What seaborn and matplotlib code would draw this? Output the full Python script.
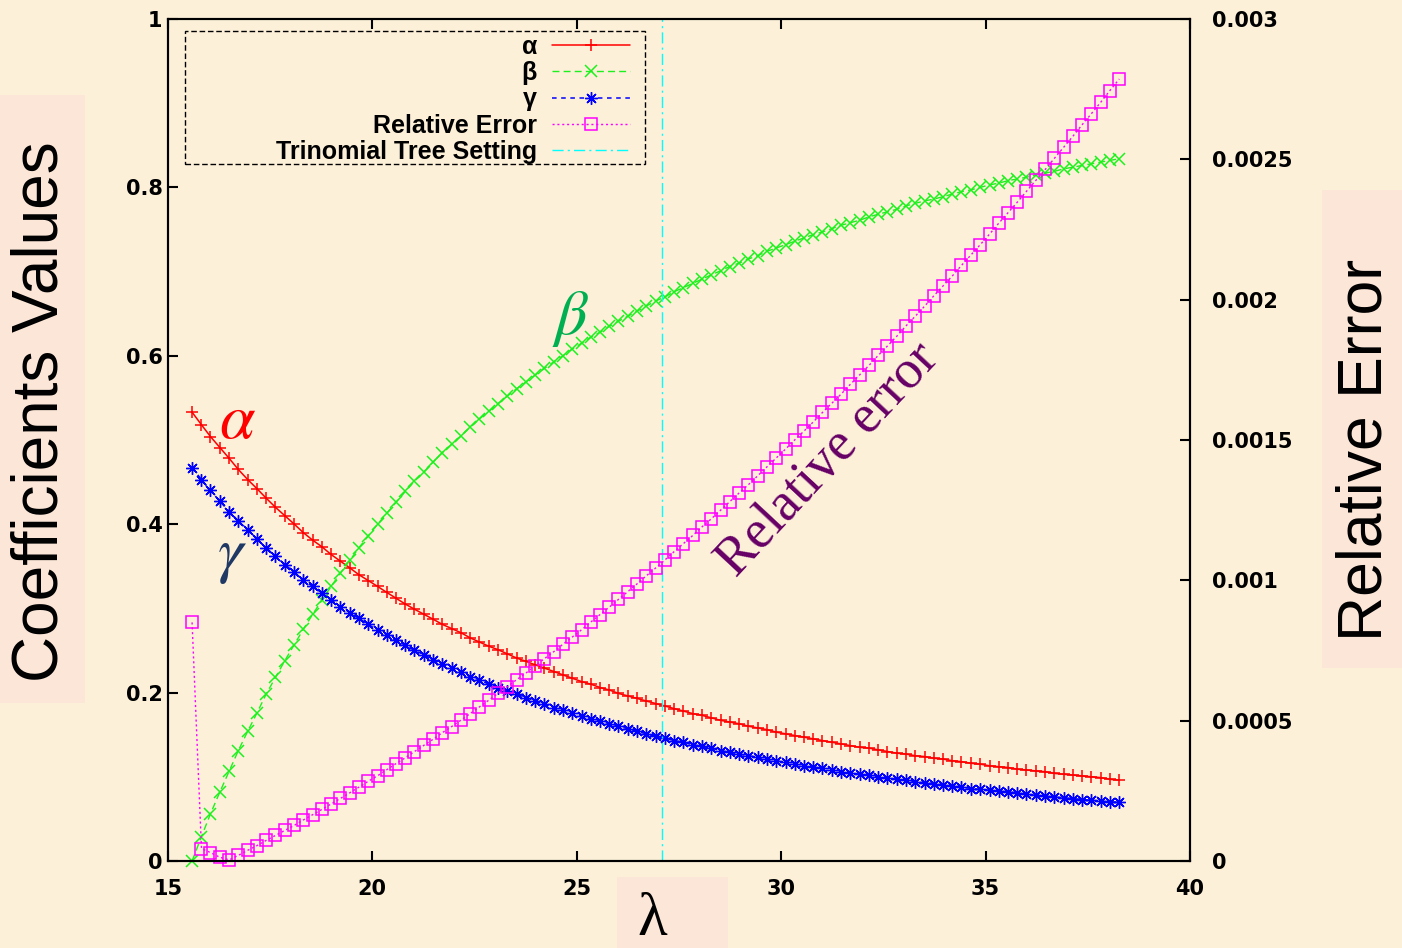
import matplotlib
matplotlib.use("Agg")
import matplotlib.pyplot as plt
import pandas as pd
import seaborn as sns
from matplotlib.patches import Rectangle

# ---------------- data ----------------
lam = [15.59, 15.82, 16.04, 16.27, 16.50, 16.72, 16.95, 17.18, 17.40, 17.63,
       17.86, 18.09, 18.31, 18.54, 18.77, 18.99, 19.22, 19.45, 19.67, 19.90,
       20.13, 20.35, 20.58, 20.81, 21.03, 21.26, 21.49, 21.71, 21.94, 22.17,
       22.39, 22.62, 22.85, 23.07, 23.30, 23.53, 23.76, 23.98, 24.21, 24.44,
       24.66, 24.89, 25.12, 25.34, 25.57, 25.80, 26.02, 26.25, 26.48, 26.70,
       26.93, 27.16, 27.38, 27.61, 27.84, 28.06, 28.29, 28.52, 28.74, 28.97,
       29.20, 29.43, 29.65, 29.88, 30.11, 30.33, 30.56, 30.79, 31.01, 31.24,
       31.47, 31.69, 31.92, 32.15, 32.37, 32.60, 32.83, 33.05, 33.28, 33.51,
       33.73, 33.96, 34.19, 34.41, 34.64, 34.87, 35.10, 35.32, 35.55, 35.78,
       36.00, 36.23, 36.46, 36.68, 36.91, 37.14, 37.36, 37.59, 37.82, 38.04,
       38.27]

alpha = [0.533, 0.518, 0.504, 0.491, 0.478, 0.465, 0.453, 0.442, 0.431, 0.420,
         0.410, 0.400, 0.390, 0.381, 0.373, 0.364, 0.356, 0.348, 0.340, 0.333,
         0.326, 0.319, 0.312, 0.305, 0.299, 0.293, 0.287, 0.281, 0.276, 0.271,
         0.265, 0.260, 0.255, 0.251, 0.246, 0.241, 0.237, 0.233, 0.229, 0.225,
         0.221, 0.217, 0.213, 0.210, 0.206, 0.203, 0.199, 0.196, 0.193, 0.190,
         0.187, 0.184, 0.181, 0.178, 0.175, 0.173, 0.170, 0.167, 0.165, 0.163,
         0.160, 0.158, 0.156, 0.153, 0.151, 0.149, 0.147, 0.145, 0.143, 0.141,
         0.139, 0.137, 0.135, 0.134, 0.132, 0.130, 0.128, 0.127, 0.125, 0.124,
         0.122, 0.121, 0.119, 0.118, 0.116, 0.115, 0.113, 0.112, 0.111, 0.109,
         0.108, 0.107, 0.106, 0.104, 0.103, 0.102, 0.101, 0.100, 0.099, 0.097,
         0.096]

beta = [0.000, 0.029, 0.056, 0.082, 0.107, 0.131, 0.154, 0.176, 0.198, 0.218,
        0.238, 0.257, 0.275, 0.293, 0.310, 0.326, 0.342, 0.357, 0.372, 0.386,
        0.400, 0.413, 0.426, 0.439, 0.451, 0.462, 0.474, 0.485, 0.495, 0.505,
        0.515, 0.525, 0.534, 0.543, 0.552, 0.561, 0.569, 0.577, 0.585, 0.593,
        0.600, 0.608, 0.615, 0.622, 0.628, 0.635, 0.641, 0.647, 0.653, 0.659,
        0.665, 0.670, 0.676, 0.681, 0.686, 0.691, 0.696, 0.701, 0.706, 0.710,
        0.715, 0.719, 0.724, 0.728, 0.732, 0.736, 0.740, 0.744, 0.747, 0.751,
        0.755, 0.758, 0.761, 0.765, 0.768, 0.771, 0.774, 0.778, 0.781, 0.784,
        0.786, 0.789, 0.792, 0.795, 0.797, 0.800, 0.803, 0.805, 0.808, 0.810,
        0.812, 0.815, 0.817, 0.819, 0.822, 0.824, 0.826, 0.828, 0.830, 0.832,
        0.834]

gamma = [0.467, 0.453, 0.440, 0.427, 0.415, 0.404, 0.393, 0.382, 0.372, 0.362,
         0.352, 0.343, 0.334, 0.326, 0.318, 0.310, 0.302, 0.295, 0.288, 0.281,
         0.274, 0.268, 0.262, 0.256, 0.250, 0.245, 0.239, 0.234, 0.229, 0.224,
         0.219, 0.215, 0.210, 0.206, 0.202, 0.198, 0.194, 0.190, 0.186, 0.182,
         0.179, 0.176, 0.172, 0.169, 0.166, 0.163, 0.160, 0.157, 0.154, 0.151,
         0.148, 0.146, 0.143, 0.141, 0.138, 0.136, 0.134, 0.131, 0.129, 0.127,
         0.125, 0.123, 0.121, 0.119, 0.117, 0.115, 0.113, 0.112, 0.110, 0.108,
         0.106, 0.105, 0.103, 0.102, 0.100, 0.099, 0.097, 0.096, 0.094, 0.093,
         0.092, 0.090, 0.089, 0.088, 0.086, 0.085, 0.084, 0.083, 0.082, 0.081,
         0.079, 0.078, 0.077, 0.076, 0.075, 0.074, 0.073, 0.072, 0.071, 0.070,
         0.070]

rel_err = [0.000850, 0.000044, 0.000030, 0.000013, 0.000004, 0.000020, 0.000038, 0.000055, 0.000073, 0.000091,
           0.000109, 0.000127, 0.000146, 0.000165, 0.000184, 0.000203, 0.000223, 0.000243, 0.000263, 0.000284,
           0.000304, 0.000325, 0.000347, 0.000368, 0.000390, 0.000412, 0.000434, 0.000457, 0.000479, 0.000502,
           0.000525, 0.000549, 0.000573, 0.000597, 0.000621, 0.000646, 0.000670, 0.000695, 0.000721, 0.000746,
           0.000772, 0.000798, 0.000824, 0.000851, 0.000878, 0.000905, 0.000932, 0.000960, 0.000988, 0.001016,
           0.001044, 0.001073, 0.001102, 0.001131, 0.001160, 0.001190, 0.001219, 0.001250, 0.001280, 0.001311,
           0.001341, 0.001373, 0.001404, 0.001436, 0.001468, 0.001500, 0.001532, 0.001565, 0.001598, 0.001631,
           0.001664, 0.001698, 0.001732, 0.001766, 0.001801, 0.001835, 0.001870, 0.001906, 0.001941, 0.001977,
           0.002013, 0.002049, 0.002085, 0.002122, 0.002159, 0.002196, 0.002234, 0.002272, 0.002310, 0.002348,
           0.002386, 0.002425, 0.002464, 0.002503, 0.002543, 0.002583, 0.002623, 0.002663, 0.002704, 0.002745,
           0.002786]

setting_lambda = 27.08

x_ticks = [15, 20, 25, 30, 35, 40]
y_ticks = [0, 0.2, 0.4, 0.6, 0.8, 1]
y2_ticks = [0, 0.0005, 0.001, 0.0015, 0.002, 0.0025, 0.003]
legend_labels = ["α", "β", "γ", "Relative Error", "Trinomial Tree Setting"]

# ---------------- style ----------------
BG = "#FCF0D8"
BOX = "#FBE6D8"
sns.set_theme(style="ticks")
plt.rcParams.update({
    "font.family": ["DejaVu Sans"],
    "mathtext.fontset": "stix",
    "text.color": "black",
    "axes.labelcolor": "black",
    "axes.edgecolor": "black",
    "axes.linewidth": 1.5,
    "xtick.color": "black",
    "ytick.color": "black",
})

df = pd.DataFrame({"lam": lam, "alpha": alpha, "beta": beta,
                   "gamma": gamma, "rel_err": rel_err})

fig = plt.figure(figsize=(14.02, 9.48), dpi=100, facecolor=BG)
ax = fig.add_axes([0.1198, 0.0918, 0.7290, 0.8882])
ax.set_facecolor(BG)
ax2 = ax.twinx()

common = dict(estimator=None, errorbar=None, legend=False, clip_on=False, sort=False)
GREEN = "#1EF01E"

sns.lineplot(data=df, x="lam", y="alpha", ax=ax, color="#FF0000", linewidth=1.1,
             marker="+", markersize=8.5, markeredgewidth=1.1, markeredgecolor="#FF0000",
             label=legend_labels[0], **common)
sns.lineplot(data=df, x="lam", y="beta", ax=ax, color=GREEN, linewidth=1.0,
             linestyle=(0, (5, 3)),
             marker="x", markersize=8, markeredgewidth=1.1, markeredgecolor=GREEN,
             label=legend_labels[1], **common)
sns.lineplot(data=df, x="lam", y="gamma", ax=ax, color="#0000FF", linewidth=1.1,
             linestyle=(0, (3, 3)),
             marker=(8, 2, 0), markersize=9, markeredgewidth=1.0, markeredgecolor="#0000FF",
             label=legend_labels[2], **common)
sns.lineplot(data=df, x="lam", y="rel_err", ax=ax2, color="#FF00FF", linewidth=1.0,
             linestyle=(0, (1.5, 2)),
             marker="s", markersize=8.5, markeredgewidth=1.1, markeredgecolor="#FF00FF",
             markerfacecolor="none",
             label=legend_labels[3], **common)
vline = ax.axvline(setting_lambda, color="#00FFFF", linewidth=1.0,
                   linestyle=(0, (8, 3, 1.5, 3)), label=legend_labels[4])

ax.set_xlim(x_ticks[0], x_ticks[-1])
ax.set_ylim(y_ticks[0], y_ticks[-1])
ax2.set_ylim(y2_ticks[0], y2_ticks[-1])
ax.set_xlabel("")
ax.set_ylabel("")
ax2.set_ylabel("")

tick_font = dict(fontsize=15, fontweight="bold", family="DejaVu Sans", color="black")
ax.set_xticks(x_ticks, labels=[f"{v:g}" for v in x_ticks], **tick_font)
ax.set_yticks(y_ticks, labels=[f"{v:g}" for v in y_ticks], **tick_font)
ax2.set_yticks(y2_ticks, labels=[f"{v:g}" for v in y2_ticks], **tick_font)

ax.tick_params(axis="x", direction="in", length=7, width=1.5, pad=13, top=True, bottom=True)
ax.tick_params(axis="y", direction="in", length=7, width=1.5, pad=4, left=True, right=False)
ax2.tick_params(axis="y", direction="in", length=7, width=1.5, pad=16, right=True)
for a in (ax, ax2):
    for sp in a.spines.values():
        sp.set_color("black")
        sp.set_linewidth(1.5)

# ---------------- legend ----------------
handles = ax.get_lines()[:3] + ax2.get_lines()[:1] + [vline]
leg = ax2.legend(handles, legend_labels, loc="upper right",
                 bbox_to_anchor=(0.452, 0.9810), bbox_transform=ax.transAxes,
                 frameon=False, markerfirst=False, handlelength=3.1,
                 handletextpad=0.62, labelspacing=0.09, borderpad=0.0,
                 borderaxespad=0.0, labelcolor="black",
                 prop={"family": "Liberation Sans", "weight": "bold", "size": 18})
ax2.add_patch(Rectangle((0.0166, 0.8278), 0.450, 0.158, transform=ax.transAxes,
                        fill=False, edgecolor="black", linewidth=1.0,
                        linestyle=(0, (4, 2)), clip_on=False))

# ---------------- annotations ----------------
ax.text(16.69, 0.524, r"$\alpha$", color="#FF0000", fontsize=46, ha="center", va="center")
ax.text(16.57, 0.363, r"$\gamma$", color="#1F3864", fontsize=46, ha="center", va="center")
ax.text(24.86, 0.645, r"$\beta$", color="#00B050", fontsize=46, ha="center", va="center")
ax.text(31.15, 0.476, "Relative error", color="#660066", fontsize=39,
        family="Liberation Serif", rotation=47, rotation_mode="anchor",
        ha="center", va="center")

# ---------------- axis titles with boxes ----------------
fig.add_artist(Rectangle((0.0, 0.2584), 0.0606, 0.6414, transform=fig.transFigure,
                         facecolor=BOX, edgecolor="none", zorder=0))
fig.add_artist(Rectangle((0.9429, 0.2954), 0.0571, 0.5042, transform=fig.transFigure,
                         facecolor=BOX, edgecolor="none", zorder=0))
fig.add_artist(Rectangle((0.4401, 0.0), 0.0792, 0.0749, transform=fig.transFigure,
                         facecolor=BOX, edgecolor="none", zorder=0))
sans = ["Liberation Sans", "DejaVu Sans"]
fig.text(0.0290, 0.5654, "Coefficients Values", rotation=90, ha="center", va="center",
         fontsize=46, family=sans, color="black")
fig.text(0.9735, 0.525, "Relative Error", rotation=90, ha="center", va="center",
         fontsize=45, family=sans, color="black")
fig.text(0.465, 0.0, "λ", ha="center", va="bottom", fontsize=44,
         family=["Liberation Serif", "DejaVu Serif"], color="black")

fig.savefig("out.png", dpi=100, facecolor=BG)
